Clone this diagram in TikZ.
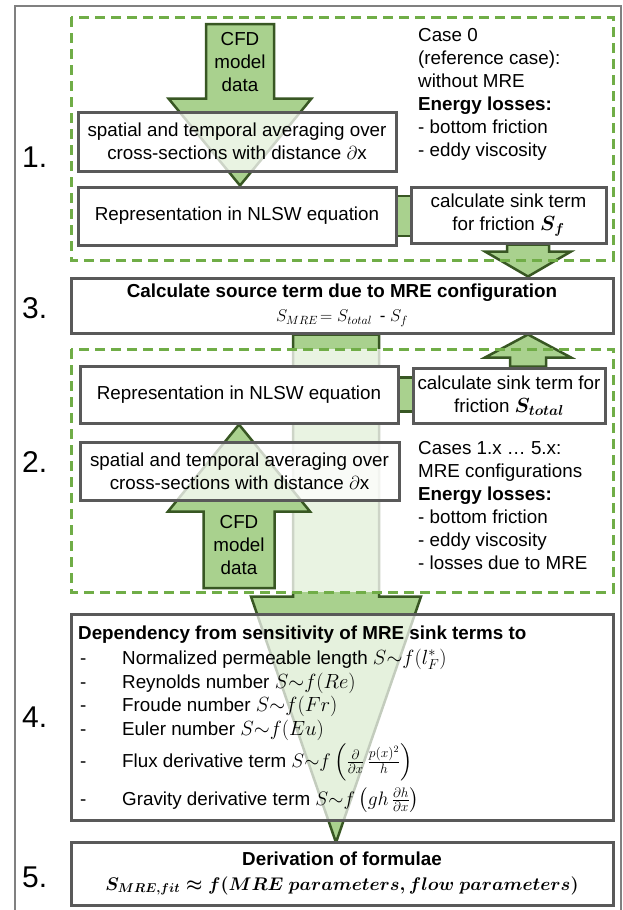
\RequirePackage{fix-cm}
\documentclass[tikz,border=0pt]{standalone}
\usepackage{amsmath}
\usepackage{fontspec}
\setmainfont{Liberation Sans}
\usetikzlibrary{calc}
\pgfdeclarelayer{bgA}\pgfdeclarelayer{bgB}\pgfdeclarelayer{bgC}\pgfdeclarelayer{fg}
\pgfsetlayers{bgA,bgB,bgC,main,fg}
\definecolor{boxgray}{HTML}{595959}
\definecolor{dashgreen}{HTML}{70AD47}
\definecolor{arrowfill}{HTML}{A9D18E}
\definecolor{arrowdark}{HTML}{385723}
\definecolor{framegray}{HTML}{808080}
\newcommand{\mthbig}[1]{{\fontsize{20.5}{23}\selectfont$#1$}}
\newcommand{\mthfrac}[1]{{\fontsize{19.5}{23}\selectfont$#1$}}
\tikzset{
 basefont/.style={font=\fontsize{18.8}{23}\selectfont},
 box/.style={basefont, draw=boxgray, line width=3pt, fill=white, align=center, inner sep=2pt},
 semibox/.style={box, fill opacity=0.75, text opacity=1},
 plain/.style={basefont, inner sep=0pt, align=left},
 plainc/.style={basefont, inner sep=0pt, align=center},
 numlabel/.style={font=\fontsize{30}{30}\selectfont, inner sep=0pt, anchor=west},
 dashbox/.style={draw=dashgreen, line width=3pt, dash pattern=on 10pt off 6pt},
 blockarrow/.style={fill=arrowfill, draw=arrowdark, line width=2.5pt, line join=miter},
}
\newcommand{\blockarrowV}[5]{%
 \draw[blockarrow] ($(#1)+(-#3,0)$) -- ($(#1)+(#3,0)$) -- ($(#2)!#5!(#1)+(#3,0)$) -- ($(#2)!#5!(#1)+(#4,0)$) -- (#2) -- ($(#2)!#5!(#1)+(-#4,0)$) -- ($(#2)!#5!(#1)+(-#3,0)$) -- cycle;}
\begin{document}
\begin{tikzpicture}[x=1pt,y=-1pt]
\useasboundingbox (0,0) rectangle (623,910);
% outer frame
\draw[framegray, line width=2pt] (15,910) -- (15,6) -- (620.5,6) -- (620.5,910);

% numbers
\node[numlabel] (n1) at (22,157) {1.};
\node[numlabel] (n3) at (22,308) {3.};
\node[numlabel] (n2) at (22,462) {2.};
\node[numlabel] (n4) at (22,717) {4.};
\node[numlabel] (n5) at (22,877) {5.};

% stage 1 boxes
\node[semibox, minimum width=318pt, minimum height=59pt] (sp1) at (237,141.5) {spatial and temporal averaging over\\cross-sections with distance $\partial$x};
\node[box, minimum width=318pt, minimum height=58pt] (nl1) at (237,216) {Representation in NLSW equation};
\node[box, minimum width=195pt, minimum height=56pt] (sk1) at (508.5,215) {calculate sink term\\for friction \mthbig{\boldsymbol{S_f}}};
\node[plainc] (cfd1) at (240,62) {CFD\\model\\data};
\node[plain, anchor=west] (case0) at (418,94) {Case 0\\(reference case):\\without MRE\\\textbf{Energy losses:}\\- bottom friction\\- eddy viscosity};

% stage 3
\node[box, minimum width=542pt, minimum height=55pt] (b3) at (342,305.5) {\textbf{Calculate source term due to MRE configuration}\\[1pt]{\fontsize{17}{20}\selectfont $S_{MRE}\!=S_{total}$\, - $S_f$}};

% stage 2 boxes
\node[box, minimum width=318pt, minimum height=57pt] (nl2) at (239,394.5) {Representation in NLSW equation};
\node[box, minimum width=192pt, minimum height=55pt] (sk2) at (509,395.5) {calculate sink term for\\friction \mthbig{\boldsymbol{S_{total}}}};
\node[semibox, minimum width=319pt, minimum height=58pt] (sp2) at (239.5,471) {spatial and temporal averaging over\\cross-sections with distance $\partial$x};
\node[plainc] (cfd2) at (239,545) {CFD\\model\\data};
\node[plain, anchor=west] (cases) at (418,505.5) {Cases 1.x … 5.x:\\MRE configurations\\\textbf{Energy losses:}\\- bottom friction\\- eddy viscosity\\- losses due to MRE};

% stage 4
\node[semibox, fill opacity=0.7, minimum width=542pt, minimum height=206pt] (b4) at (342,717) {};
\node[plain, anchor=base west] (h4) at (78,639) {\textbf{Dependency from sensitivity of MRE sink terms to}};
\node[plain, anchor=base west] (d1) at (80,664) {-};
\node[plain, anchor=base west] (d2) at (80,688) {-};
\node[plain, anchor=base west] (d3) at (80,711) {-};
\node[plain, anchor=base west] (d4) at (80,735) {-};
\node[plain, anchor=base west] (d5) at (80,767) {-};
\node[plain, anchor=base west] (d6) at (80,805) {-};
\node[plain, anchor=base west] (i1) at (122,664) {Normalized permeable length \mthbig{S{\sim}f(l_F^*)}};
\node[plain, anchor=base west] (i2) at (122,688) {Reynolds number \mthbig{S{\sim}f(Re)}};
\node[plain, anchor=base west] (i3) at (122,711) {Froude number \mthbig{S{\sim}f(Fr)}};
\node[plain, anchor=base west] (i4) at (122,735) {Euler number \mthbig{S{\sim}f(Eu)}};
\node[plain, anchor=base west] (i5) at (122,767) {Flux derivative term \mthfrac{S{\sim}f\left(\tfrac{\partial}{\partial x}\,\tfrac{p(x)^2}{h}\right)}};
\node[plain, anchor=base west] (i6) at (122,805) {Gravity derivative term \mthfrac{S{\sim}f\left(gh\,\tfrac{\partial h}{\partial x}\right)}};

% stage 5
\node[box, minimum width=542pt, minimum height=63pt] (b5) at (342,873.5) {\textbf{Derivation of formulae}\\[2pt]{\fontsize{18.3}{22}\selectfont$\boldsymbol{S_{MRE,fit}\approx f(MRE\ parameters, flow\ parameters)}$}};

% coordinates for arrows
\coordinate (c1top) at (240,24);
\coordinate (c1tip) at (c1top |- nl1.north);
\coordinate (c2bot) at (239,588);
\coordinate (c2tip) at (c2bot |- nl2.south);
\coordinate (ax) at (528,0);
\coordinate (a1s) at (ax |- sk1.south);
\coordinate (a1t) at (ax |- b3.north);
\coordinate (a2s) at (ax |- sk2.north);
\coordinate (a2t) at (ax |- b3.south);
\coordinate (bx) at (336,0);
\coordinate (bigs) at (bx |- b3.south);
\coordinate (bigt) at ($(bx |- b5.north)+(0,2)$);

\begin{pgfonlayer}{bgA}
 \blockarrowV{bigs}{bigt}{43}{85}{246pt}
\end{pgfonlayer}
\begin{pgfonlayer}{bgB}
 \fill[white, opacity=0.75] (71,349) rectangle (613,592);
\end{pgfonlayer}
\begin{pgfonlayer}{bgC}
 \blockarrowV{c1top}{c1tip}{34}{71.5}{87pt}
 \blockarrowV{c2bot}{c2tip}{35.5}{71}{87pt}
 \blockarrowV{a1s}{a1t}{21}{43}{25pt}
 \blockarrowV{a2s}{a2t}{18}{43}{23pt}
 \draw[blockarrow] ($(nl1.east)+(-3,-20)$) rectangle ($(nl1.east -| sk1.west)+(3,20)$);
 \draw[blockarrow] ($(nl2.east)+(-3,-17)$) rectangle ($(nl2.east -| sk2.west)+(3,17)$);
\end{pgfonlayer}
\begin{pgfonlayer}{fg}
 \draw[dashbox] (71,17) rectangle (613,260);
 \draw[dashbox] (71,349) rectangle (613,592);
\end{pgfonlayer}
\end{tikzpicture}
\end{document}
